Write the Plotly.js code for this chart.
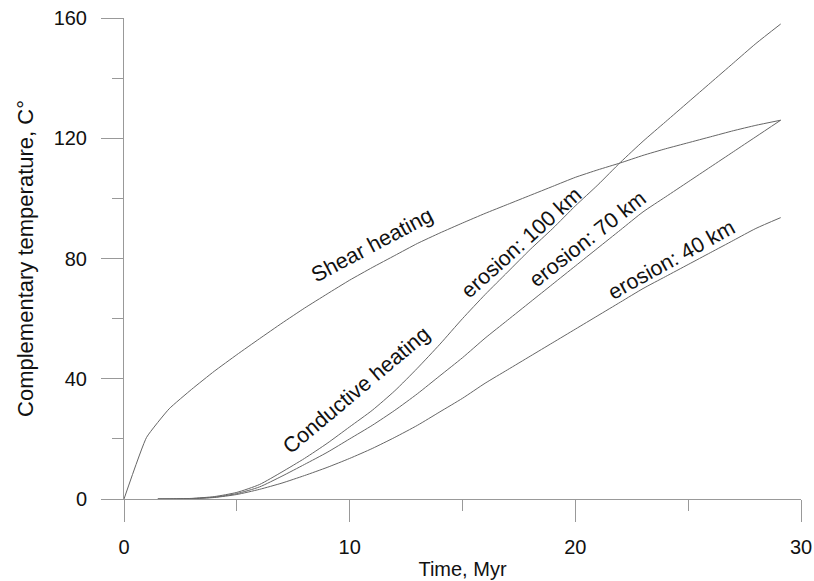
<!DOCTYPE html>
<html>
<head>
<meta charset="utf-8">
<script src="https://cdn.plot.ly/plotly-3.0.1.min.js"></script>
<style>html,body{margin:0;padding:0;background:#fff;}#chart{width:814px;height:581px;}</style>
</head>
<body>
<div id="chart"></div>
<script>
// Time, Myr
const shearX = [0, 1, 2, 3, 4, 5, 6, 7, 8, 9, 10, 11, 12, 13, 14, 15, 16, 17, 18, 19, 20, 21, 22, 23, 24, 25, 26, 27, 28, 29.1];
const shearY = [0, 20.5, 30, 36.5, 42.5, 48, 53.3, 58.5, 63.5, 68.2, 72.8, 77, 81, 85, 88.5, 91.8, 95, 98, 101, 104, 107, 109.5, 111.8, 114.3, 116.5, 118.5, 120.5, 122.5, 124.3, 126];

const erosionX = [1.5, 2, 3, 4, 5, 6, 7, 8, 9, 10, 11, 12, 13, 14, 15, 16, 17, 18, 19, 20, 21, 22, 23, 24, 25, 26, 27, 28, 29.1];
const erosion100Y = [0, 0.02, 0.2, 0.8, 2.2, 4.8, 9, 13.5, 18.5, 24, 29.5, 36, 43.5, 51.5, 60, 68, 75.5, 83, 90, 97.5, 104.5, 112, 119, 125.5, 132, 138.5, 145, 151.5, 158];
const erosion70Y  = [0, 0.02, 0.15, 0.6, 1.8, 4, 7.6, 11.5, 15.5, 20, 24.5, 29.5, 35, 41, 47, 53.5, 59.5, 65.5, 71.5, 77.5, 83.5, 89.5, 95.5, 100.5, 105.5, 110.5, 115.5, 120.5, 126];
const erosion40Y  = [0, 0.01, 0.1, 0.5, 1.5, 3.2, 5.3, 7.8, 10.5, 13.5, 16.8, 20.5, 24.5, 29, 33.5, 38.5, 43, 47.5, 52, 56.5, 61, 65.5, 70, 74, 78, 82, 86, 90, 93.6];

const labelTexts = ["Shear heating", "Conductive heating", "erosion: 100 km", "erosion: 70 km", "erosion: 40 km"];
const labelX = [11.0, 10.3, 17.6, 20.55, 24.25];
const labelY = [84.6, 36.4, 85.2, 86.6, 79.6];
const labelAngle = [-28, -40, -42, -38, -29];

const xTitle = "Time, Myr";
const yTitle = "Complementary temperature, C°";

const lineStyle = {color: '#666', width: 1, shape: 'spline', smoothing: 0.6};
const font = "Liberation Sans, Arial, sans-serif";

const traces = [
  {x: shearX, y: shearY, mode: 'lines', line: Object.assign({}, lineStyle, {smoothing: 0.4}), name: 'Shear heating'},
  {x: erosionX, y: erosion100Y, mode: 'lines', line: lineStyle, name: 'erosion: 100 km'},
  {x: erosionX, y: erosion70Y, mode: 'lines', line: lineStyle, name: 'erosion: 70 km'},
  {x: erosionX, y: erosion40Y, mode: 'lines', line: lineStyle, name: 'erosion: 40 km'}
];

const annotations = labelTexts.map((t, i) => ({
  x: labelX[i], y: labelY[i], xref: 'x', yref: 'y', text: t, showarrow: false,
  textangle: labelAngle[i], font: {family: font, size: 21.5, color: '#111'}
}));

const axisCommon = {
  showline: true, linecolor: '#999', linewidth: 1, mirror: false,
  showgrid: false, zeroline: false,
  ticks: 'outside', ticklen: 22, tickwidth: 1, tickcolor: '#999',
  tickfont: {family: font, size: 20, color: '#111'}
};

const layout = {
  width: 814, height: 581,
  margin: {l: 124, r: 13, t: 18, b: 82},
  paper_bgcolor: '#fff', plot_bgcolor: '#fff',
  showlegend: false,
  xaxis: Object.assign({}, axisCommon, {
    range: [0, 30], dtick: 10, tick0: 0,
    minor: {ticks: 'outside', ticklen: 11, dtick: 5, tick0: 0, tickcolor: '#999', showgrid: false},
    ticklabelstandoff: 8,
    title: {text: xTitle, font: {family: font, size: 20, color: '#111'}, standoff: 4}
  }),
  yaxis: Object.assign({}, axisCommon, {
    range: [0, 160], dtick: 40, tick0: 0,
    minor: {ticks: 'outside', ticklen: 11, dtick: 20, tick0: 0, tickcolor: '#999', showgrid: false},
    ticklabelstandoff: 10,
    title: {text: yTitle, font: {family: font, size: 22, color: '#111'}, standoff: 13}
  }),
  annotations: annotations
};

Plotly.newPlot('chart', traces, layout, {displayModeBar: false, staticPlot: true});
</script>
</body>
</html>
